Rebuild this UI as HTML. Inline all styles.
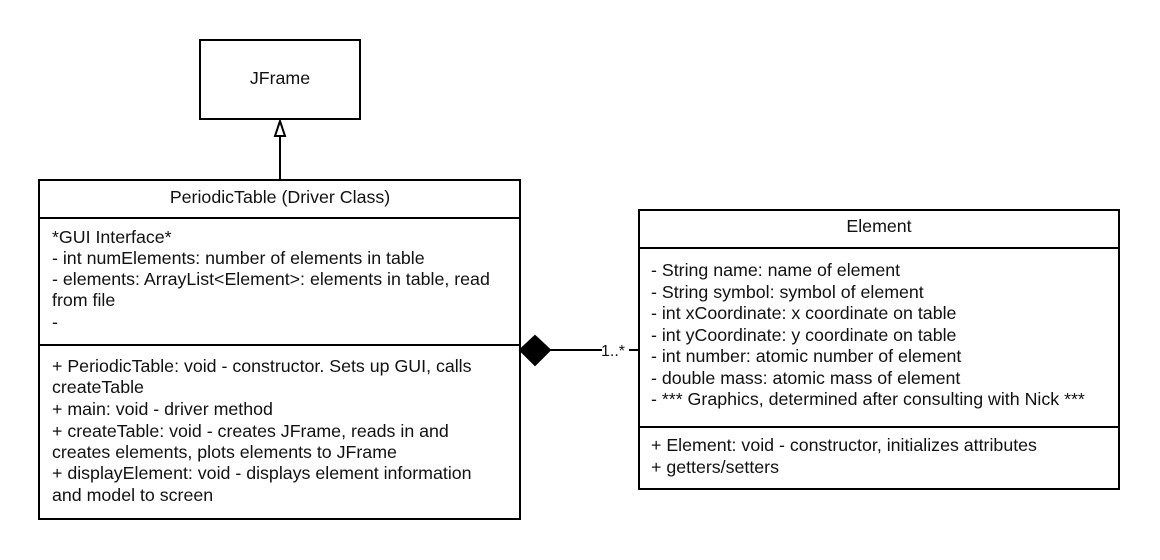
<!DOCTYPE html>
<html><head><meta charset="utf-8"><style>
html,body{margin:0;padding:0;background:#fff;}
svg{display:block;}
text{font-family:"Liberation Sans",Arial,sans-serif;font-size:17.8px;fill:#111;}
</style></head><body>
<svg width="1160" height="560" viewBox="0 0 1160 560" xmlns="http://www.w3.org/2000/svg">
<rect x="0" y="0" width="1160" height="560" fill="#fff"/>
<g stroke="#000" stroke-width="2" fill="none">
<rect x="200" y="40" width="160" height="79"/>
<line x1="280" y1="136" x2="280" y2="180"/>
<polygon points="280,121 275,136 285,136" fill="#fff"/>
<rect x="39" y="180" width="481" height="339"/>
<line x1="39" y1="218" x2="520" y2="218"/>
<line x1="39" y1="345" x2="520" y2="345"/>
<rect x="639" y="210" width="480" height="279"/>
<line x1="639" y1="248" x2="1119" y2="248"/>
<line x1="639" y1="427" x2="1119" y2="427"/>
<line x1="550" y1="350" x2="602" y2="350"/>
<line x1="629" y1="350" x2="639" y2="350"/>
<polygon points="520,350 535,336 550,350 535,365" fill="#000"/>
</g>
<text x="280" y="84" text-anchor="middle">JFrame</text>
<text x="280" y="203" text-anchor="middle">PeriodicTable (Driver Class)</text>
<text x="52" y="243">*GUI Interface*</text>
<text x="52" y="264">- int numElements: number of elements in table</text>
<text x="52" y="285">- elements: ArrayList&lt;Element&gt;: elements in table, read</text>
<text x="52" y="306">from file</text>
<text x="52" y="328">-</text>
<text x="52" y="372">+ PeriodicTable: void - constructor. Sets up GUI, calls</text>
<text x="52" y="393">createTable</text>
<text x="52" y="415">+ main: void - driver method</text>
<text x="52" y="437">+ createTable: void - creates JFrame, reads in and</text>
<text x="52" y="458">creates elements, plots elements to JFrame</text>
<text x="52" y="479">+ displayElement: void - displays element information</text>
<text x="52" y="501">and model to screen</text>
<text x="879" y="232" text-anchor="middle">Element</text>
<text x="651" y="276">- String name: name of element</text>
<text x="651" y="298">- String symbol: symbol of element</text>
<text x="651" y="319">- int xCoordinate: x coordinate on table</text>
<text x="651" y="341">- int yCoordinate: y coordinate on table</text>
<text x="651" y="362">- int number: atomic number of element</text>
<text x="651" y="384">- double mass: atomic mass of element</text>
<text x="651" y="405">- *** Graphics, determined after consulting with Nick ***</text>
<text x="651" y="451">+ Element: void - constructor, initializes attributes</text>
<text x="651" y="473">+ getters/setters</text>
<text x="601" y="356" style="font-size:16px">1..*</text>
</svg>
</body></html>
